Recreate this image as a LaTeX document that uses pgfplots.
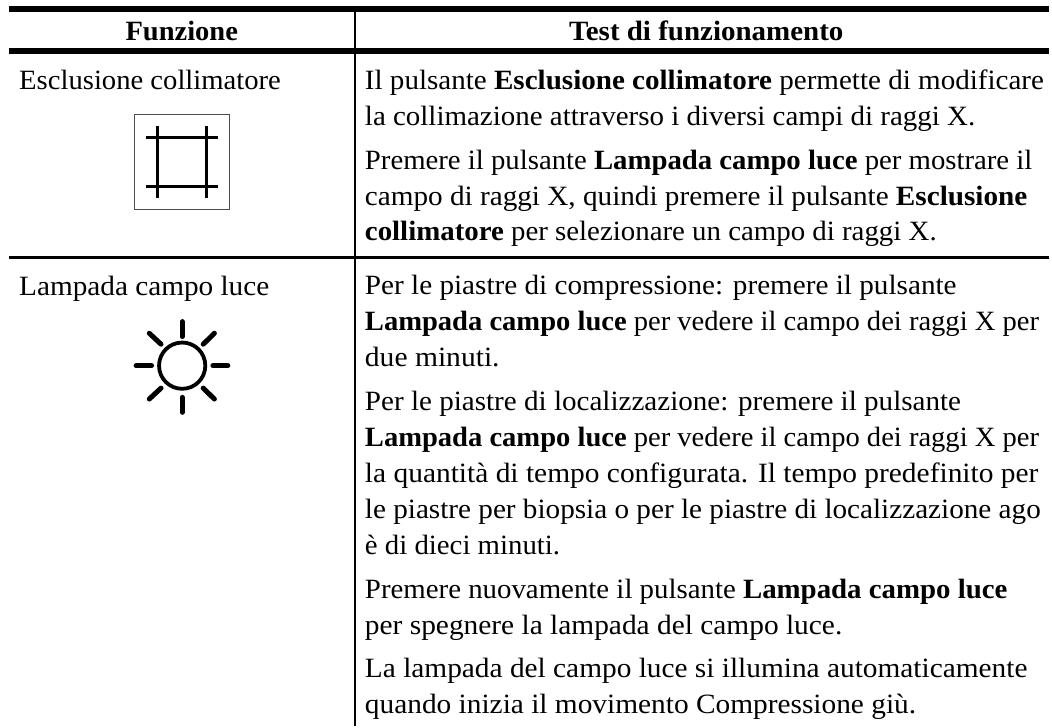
\documentclass[border=0pt]{standalone}
\usepackage{graphicx}
\usepackage{fontspec}
\setmainfont{Liberation Serif}
\usepackage{pgfplots}
\pgfplotsset{compat=1.18}
\newcommand{\tl}[4]{\node[anchor=base west,inner sep=0pt,outer sep=0pt,text=black] at (axis cs:#1,#2) {\resizebox{\dimexpr#3pt-#1pt\relax}{\height}{\fontsize{28}{32}\selectfont #4}};}
\begin{document}
\begin{tikzpicture}
\begin{axis}[scale only axis,width=1052pt,height=728pt,xmin=0,xmax=1052,ymin=0,ymax=728,y dir=reverse,hide axis,clip=false]
\addplot[draw=none] coordinates {(0,0) (1052,728)};
% table rules
\addplot[black,line width=6pt] coordinates {(9,9) (1052,9)};
\addplot[black,line width=6pt] coordinates {(9,51) (1052,51)};
\addplot[black,line width=2.2pt] coordinates {(9,258.3) (1052,258.3)};
\addplot[black,line width=2.2pt] coordinates {(356,12) (356,728)};
% collimator icon
\addplot[black!70,line width=1pt] coordinates {(134.5,114.5) (230.5,114.5) (230.5,210.5) (134.5,210.5) (134.5,114.5)};
\addplot[black,line width=3.2pt] coordinates {(146.7,137.8) (218.7,137.8)};
\addplot[black,line width=3.2pt] coordinates {(146.7,186.7) (218.7,186.7)};
\addplot[black,line width=3.2pt] coordinates {(158,126.7) (158,198.3)};
\addplot[black,line width=3.2pt] coordinates {(206.7,126.7) (206.7,198.3)};
% sun icon
\addplot[black,only marks,mark=o,mark size=23.2pt,mark options={line width=3.8pt}] coordinates {(182.7,366.7)};
\addplot[black,line width=5pt,line cap=round] coordinates {(182.7,322.5) (182.7,337.5)};
\addplot[black,line width=5pt,line cap=round] coordinates {(182.7,398.5) (182.7,413.5)};
\addplot[black,line width=5pt,line cap=round] coordinates {(136.5,366.7) (152,366.7)};
\addplot[black,line width=5pt,line cap=round] coordinates {(213.5,366.7) (228.5,366.7)};
\addplot[black,line width=5pt,line cap=round] coordinates {(149.7,334.2) (161.5,345.2)};
\addplot[black,line width=5pt,line cap=round] coordinates {(215,334.2) (203.8,345.2)};
\addplot[black,line width=5pt,line cap=round] coordinates {(149.7,400.2) (161.5,389.2)};
\addplot[black,line width=5pt,line cap=round] coordinates {(215,400.2) (203.8,389.2)};
% header
\node[anchor=base,inner sep=0pt,text=black] at (axis cs:182.3,40.7) {\resizebox{112.7pt}{\height}{\fontsize{28}{32}\selectfont\bfseries Funzione}};
\node[anchor=base,inner sep=0pt,text=black] at (axis cs:708.3,40.7) {\resizebox{275pt}{\height}{\fontsize{28}{32}\selectfont\bfseries Test di funzionamento}};
% left column
\tl{19.3}{90}{281.7}{Esclusione collimatore}
\tl{19.3}{296}{270}{Lampada campo luce}
% right column
\tl{366}{90}{1047}{Il pulsante \textbf{Esclusione collimatore} permette di modificare}
\tl{366}{125.7}{978}{la collimazione attraverso i diversi campi di raggi X.}
\tl{366}{170}{1035.3}{Premere il pulsante \textbf{Lampada campo luce} per mostrare il}
\tl{366}{205.7}{1030.3}{campo di raggi X, quindi premere il pulsante \textbf{Esclusione}}
\tl{366}{241.5}{939.3}{\textbf{collimatore} per selezionare un campo di raggi X.}
\tl{366}{295.7}{959.3}{Per le piastre di compressione: premere il pulsante}
\tl{366}{331.7}{1042}{\textbf{Lampada campo luce} per vedere il campo dei raggi X per}
\tl{366}{367.7}{501}{due minuti.}
\tl{366}{411.7}{963.7}{Per le piastre di localizzazione: premere il pulsante}
\tl{366}{447.5}{1042}{\textbf{Lampada campo luce} per vedere il campo dei raggi X per}
\tl{366}{484}{1041.3}{la quantità di tempo configurata. Il tempo predefinito per}
\tl{366}{520}{1043.7}{le piastre per biopsia o per le piastre di localizzazione ago}
\tl{366}{555.7}{561.7}{è di dieci minuti.}
\tl{366}{600}{1010.3}{Premere nuovamente il pulsante \textbf{Lampada campo luce}}
\tl{366}{636}{844.7}{per spegnere la lampada del campo luce.}
\tl{366}{679.3}{1030.3}{La lampada del campo luce si illumina automaticamente}
\tl{366}{715.7}{918.7}{quando inizia il movimento Compressione giù.}
\end{axis}
\end{tikzpicture}
\end{document}
